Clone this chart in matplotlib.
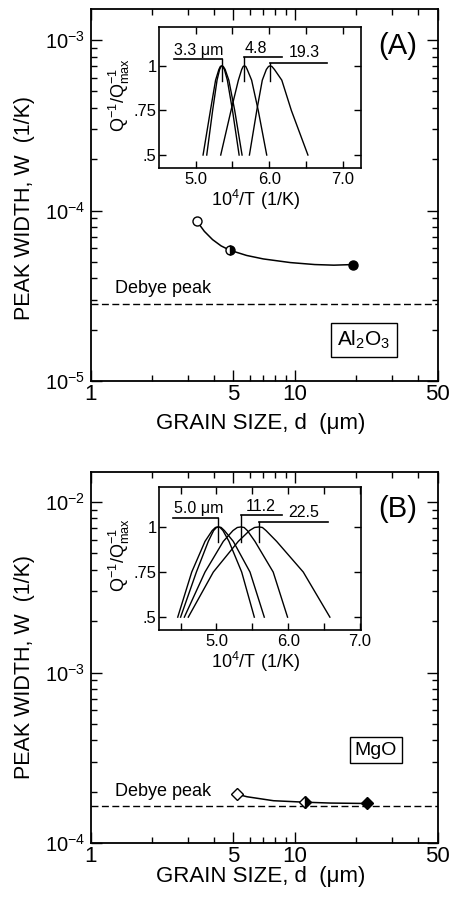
import matplotlib
matplotlib.use("Agg")
import matplotlib.pyplot as plt
from matplotlib.ticker import FixedLocator, NullFormatter

plt.rcParams['font.family'] = ['Liberation Sans', 'DejaVu Sans']
plt.rcParams['mathtext.fontset'] = 'custom'
plt.rcParams['mathtext.rm'] = 'Liberation Sans'

# ---- panel A (Al2O3) main data
a_d = [3.3, 4.8, 19.3]
a_w = [8.7e-5, 5.85e-5, 4.82e-5]
a_fit_d = [3.3, 3.6, 3.95, 4.35, 4.8, 5.8, 7.0, 9.5, 12.5, 15.5, 19.3]
a_fit_w = [8.7e-5, 7.55e-5, 6.75e-5, 6.2e-5, 5.85e-5, 5.45e-5, 5.2e-5, 4.95e-5, 4.82e-5, 4.78e-5, 4.82e-5]
a_debye = 2.84e-5

# ---- panel B (MgO) main data
b_d = [5.2, 11.2, 22.5]
b_w = [1.94e-4, 1.74e-4, 1.71e-4]
b_fit_d = [5.2, 5.82, 7.85, 11.2, 14.9, 22.5]
b_fit_w = [1.94e-4, 1.873e-4, 1.775e-4, 1.74e-4, 1.72e-4, 1.71e-4]
b_debye = 1.65e-4

# ---- inset peaks, Q^-1/Q^-1max vs 10^4/T
levels = [0.5, 0.75, 0.92, 0.98, 0.997, 1.0, 0.997, 0.98, 0.92, 0.75, 0.5]
a_peaks = [
    [5.10, 5.20, 5.27, 5.315, 5.335, 5.35, 5.365, 5.39, 5.43, 5.50, 5.59],
    [5.15, 5.23, 5.29, 5.325, 5.345, 5.36, 5.375, 5.40, 5.45, 5.53, 5.63],
    [5.34, 5.48, 5.58, 5.625, 5.645, 5.66, 5.68, 5.70, 5.76, 5.85, 5.965],
    [5.73, 5.83, 5.905, 5.96, 5.99, 6.01, 6.035, 6.07, 6.17, 6.30, 6.525],
]
b_peaks = [
    [4.46, 4.655, 4.84, 4.94, 4.985, 5.017, 5.05, 5.09, 5.174, 5.351, 5.527],
    [4.50, 4.72, 4.886, 4.96, 5.0, 5.03, 5.065, 5.11, 5.234, 5.467, 5.666],
    [4.552, 4.84, 5.095, 5.23, 5.29, 5.341, 5.385, 5.43, 5.536, 5.79, 5.99],
    [4.607, 4.956, 5.304, 5.46, 5.53, 5.592, 5.64, 5.69, 5.838, 6.209, 6.58],
]
# peak labels: text, peak x, bar y, bar end x, text x, text y
a_marks = [("3.3 μm", 5.353, 1.036, 4.70, 4.71, 1.045),
           ("4.8", 5.66, 1.049, 6.17, 5.66, 1.058),
           ("19.3", 6.01, 1.016, 6.78, 6.26, 1.033)]
b_marks = [("5.0 μm", 5.017, 1.05, 4.40, 4.41, 1.06),
           ("11.2", 5.341, 1.065, 5.908, 5.41, 1.073),
           ("22.5", 5.592, 1.028, 6.557, 6.0, 1.04)]

fig = plt.figure(figsize=(4.52, 9.02), dpi=100)


def main_panel(rect, ylim, yticks, ylabels, d, w, fd, fw, debye, marker, ms, tag, mat, matpos, matsize, matpad, ylab_y, xlab_y):
    ax = fig.add_axes(rect)
    ax.set_xscale('log')
    ax.set_yscale('log')
    ax.set_xlim(1, 50)
    ax.set_ylim(*ylim)
    ax.axhline(debye, color='black', lw=1.0, ls=(0, (5, 2.5)))
    ax.plot(fd, fw, color='black', lw=1.1)
    ax.plot(d[0], w[0], marker=marker, ms=ms, mfc='white', mec='black', mew=1.0, ls='none')
    ax.plot(d[1], w[1], marker=marker, ms=ms, mfc='black', mec='black', mew=1.0,
            fillstyle='right', markerfacecoloralt='white', ls='none')
    ax.plot(d[2], w[2], marker=marker, ms=ms, mfc='black', mec='black', mew=1.0, ls='none')
    ax.xaxis.set_major_locator(FixedLocator([1, 5, 10, 50]))
    ax.set_xticklabels(['1', '5', '10', '50'], fontsize=16)
    ax.xaxis.set_minor_locator(FixedLocator([2, 3, 4, 6, 7, 8, 9, 20, 30, 40]))
    ax.xaxis.set_minor_formatter(NullFormatter())
    ax.yaxis.set_major_locator(FixedLocator(yticks))
    ax.set_yticklabels(ylabels, fontsize=14.5)
    ax.tick_params(which='both', direction='in', top=True, right=True, width=1.0)
    ax.tick_params(which='major', length=8)
    ax.tick_params(which='minor', length=4)
    ax.tick_params(axis='x', pad=2)
    ax.tick_params(axis='y', pad=4)
    for s in ax.spines.values():
        s.set_linewidth(1.3)
    ax.set_xlabel('GRAIN SIZE, d  (μm)', fontsize=16)
    ax.xaxis.set_label_coords(0.49, xlab_y)
    ax.set_ylabel('PEAK WIDTH, W  (1/K)', fontsize=15.5)
    ax.yaxis.set_label_coords(-0.16, ylab_y)
    ax.text(0.886, 0.90, tag, transform=ax.transAxes, ha='center', va='center', fontsize=21)
    ax.text(matpos[0], matpos[1], mat, transform=ax.transAxes, ha='center', va='center',
            fontsize=matsize,
            bbox=dict(boxstyle='square,pad=%s' % matpad, fc='white', ec='black', lw=1.0))
    ax.text(1.315, debye * 1.09, 'Debye peak', ha='left', va='bottom', fontsize=13)
    return ax


def inset(rect, xlim, peaks, marks, xlab_y, ylab_y):
    ax = fig.add_axes(rect)
    ax.set_xlim(*xlim)
    ax.set_ylim(0.429, 1.22)
    for xs in peaks:
        ax.plot(xs, levels, color='black', lw=1.0)
    for txt, xp, yb, xe, tx, ty in marks:
        ax.plot([xp, xe], [yb, yb], color='black', lw=1.2)
        ax.plot([xp, xp], [0.915, yb], color='black', lw=1.0)
        ax.text(tx, ty, txt, ha='left', va='bottom', fontsize=11.5)
    ax.xaxis.set_major_locator(FixedLocator([5.0, 6.0, 7.0]))
    ax.set_xticklabels(['5.0', '6.0', '7.0'], fontsize=12)
    ax.xaxis.set_minor_locator(FixedLocator([4.5, 5.5, 6.5]))
    ax.yaxis.set_major_locator(FixedLocator([0.5, 0.75, 1.0]))
    ax.set_yticklabels(['.5', '.75', '1'], fontsize=12)
    ax.tick_params(which='both', direction='in', top=True, right=True, length=5, width=1.0)
    ax.tick_params(axis='x', pad=3)
    ax.tick_params(axis='y', pad=2)
    for s in ax.spines.values():
        s.set_linewidth(1.2)
    ax.set_xlabel(r'$\mathregular{10^4/T\ (1/K)}$', fontsize=13)
    ax.xaxis.set_label_coords(0.48, xlab_y)
    ax.set_ylabel(r'$\mathregular{Q^{-1}/Q^{-1}_{max}}$', fontsize=13)
    ax.yaxis.set_label_coords(-0.135, ylab_y)
    return ax


main_panel([0.2007, 0.5776, 0.7677, 0.4124], (1e-5, 1.52e-3), [1e-5, 1e-4, 1e-3],
           [r'$\mathregular{10^{-5}}$', r'$\mathregular{10^{-4}}$', r'$\mathregular{10^{-3}}$'],
           a_d, a_w, a_fit_d, a_fit_w, a_debye, 'o', 6.5, '(A)',
           r'$\mathregular{Al_2O_3}$', (0.788, 0.110), 15, 0.3, 0.465, -0.085)
main_panel([0.2007, 0.0651, 0.7677, 0.4120], (1e-4, 1.5e-2), [1e-4, 1e-3, 1e-2],
           [r'$\mathregular{10^{-4}}$', r'$\mathregular{10^{-3}}$', r'$\mathregular{10^{-2}}$'],
           b_d, b_w, b_fit_d, b_fit_w, b_debye, 'D', 6, '(B)',
           'MgO', (0.822, 0.251), 14, 0.25, 0.474, -0.06)

inset([0.3524, 0.8141, 0.4462, 0.1563], (4.505, 7.246), a_peaks, a_marks, -0.14, 0.516)
inset([0.3524, 0.3016, 0.4462, 0.1582], (4.203, 7.013), b_peaks, b_marks, -0.14, 0.526)

fig.savefig('out.png', dpi=100)
